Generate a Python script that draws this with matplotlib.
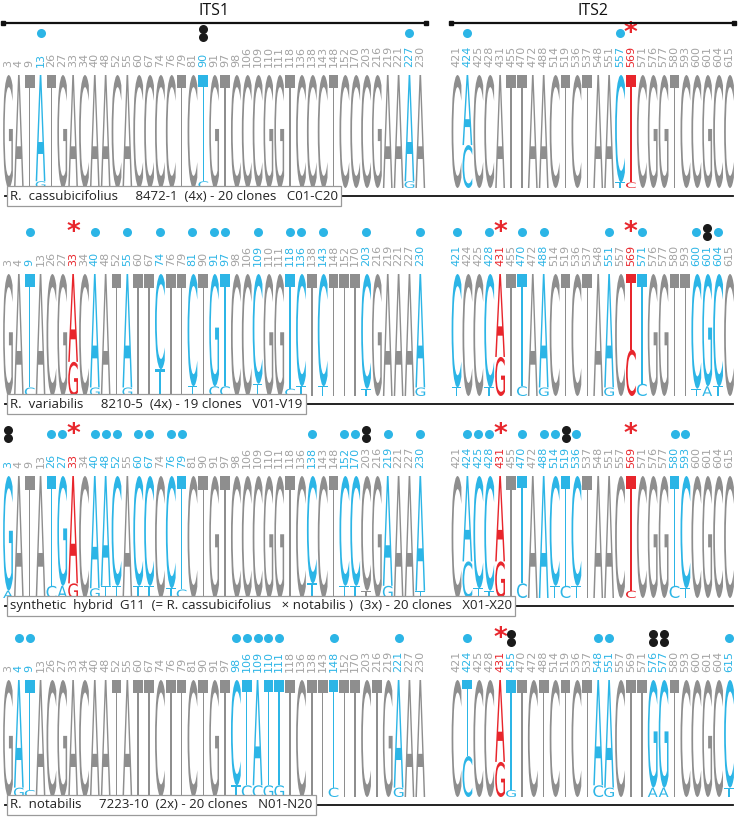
import matplotlib
matplotlib.use("Agg")
import matplotlib.pyplot as plt
from matplotlib.textpath import TextPath
from matplotlib.patches import PathPatch
from matplotlib.font_manager import FontProperties
from matplotlib.transforms import Affine2D

W, H = 738, 819
GRAY = "#8e8e8e"
LGRAY = "#a3a3a3"
CYAN = "#2cb5e6"
RED = "#e8262c"

# ---------------- data ----------------
its1_pos = [3, 4, 9, 13, 26, 27, 33, 34, 40, 48, 52, 55, 60, 67, 74, 76, 79, 81, 90,
            91, 97, 98, 106, 109, 110, 111, 118, 136, 138, 143, 148, 152, 170, 203,
            216, 219, 221, 227, 230]
its2_pos = [421, 424, 425, 428, 431, 455, 470, 472, 488, 514, 519, 536, 537, 548, 551,
            557, 569, 571, 576, 577, 580, 593, 600, 601, 604, 615]

panel_labels = [
    "R.  cassubicifolius     8472-1  (4x) - 20 clones   C01-C20",
    "R.  variabilis     8210-5  (4x) - 19 clones   V01-V19",
    "synthetic  hybrid  G11  (= R. cassubicifolius   \u00d7 notabilis )  (3x) - 20 clones   X01-X20",
    "R.  notabilis     7223-10  (2x) - 20 clones   N01-N20",
]

# major (top) letter of every column
its1_seq = [
    "GATATGACAACACCCCTCTGTCCCGGTCCCTCCCGAAAA",
    "GATACGACAATATTCTTCTGTCCCGGTCTCTTTCGAAAA",
    "GATATGACAACACCCCTCTGTCCCGGTCCCTCCCGAAAA",
    "GATACGACAATATTCTTCTGTCTATTTCTTTTTCTGAAA",
]
its2_seq = [
    "CACCATTAACTCTAACTCGGTCCGCC",
    "CCCCATTAACTCTAACTTGGTTCGCC",
    "CACCATTAACTCTAACTCGGTCCGCC",
    "CTCCATTCTCTCTAACTTGGTCCGCC",
]

its1_cyan = [[13, 90, 227],
             [9, 40, 55, 74, 81, 91, 97, 109, 118, 136, 143, 203, 230],
             [3, 26, 27, 40, 48, 52, 60, 67, 76, 79, 138, 152, 170, 219, 230],
             [4, 9, 98, 106, 109, 110, 111, 148, 221]]
its1_red = [[], [33], [33], []]
its2_cyan = [[424, 557],
             [421, 428, 470, 488, 551, 571, 600, 601, 604],
             [424, 425, 428, 470, 488, 514, 519, 536, 580, 593],
             [424, 455, 548, 551, 576, 577, 615]]
its2_red = [[569], [431, 569], [431, 569], [431]]

# minor variants drawn below the major letter: (position, letter, fraction of column)
its1_minor = [
    [(13, "G", 0.06), (90, "C", 0.06), (227, "G", 0.06)],
    [(9, "C", 0.07), (33, "G", 0.28), (40, "G", 0.07), (55, "G", 0.07), (74, "T", 0.22),
     (81, "T", 0.08), (91, "C", 0.08), (97, "C", 0.08), (109, "T", 0.1), (118, "C", 0.06),
     (136, "T", 0.08), (143, "T", 0.08), (203, "T", 0.06), (230, "G", 0.07)],
    [(3, "A", 0.06), (26, "C", 0.1), (27, "A", 0.1), (33, "G", 0.12), (40, "G", 0.08),
     (48, "T", 0.1), (52, "T", 0.1), (60, "T", 0.1), (67, "T", 0.1), (76, "T", 0.08),
     (79, "C", 0.07), (138, "T", 0.12), (152, "T", 0.1), (170, "T", 0.1), (203, "T", 0.06),
     (219, "G", 0.1), (230, "T", 0.06)],
    [(4, "G", 0.08), (9, "C", 0.06), (98, "T", 0.1), (106, "C", 0.1), (109, "C", 0.1),
     (110, "G", 0.1), (111, "G", 0.1), (148, "C", 0.08), (221, "G", 0.08)],
]
its2_minor = [
    [(424, "C", 0.38), (557, "T", 0.05), (569, "C", 0.05)],
    [(421, "T", 0.07), (428, "T", 0.07), (431, "G", 0.32), (470, "C", 0.08), (488, "G", 0.07),
     (551, "G", 0.07), (569, "C", 0.38), (571, "C", 0.1), (600, "T", 0.06), (601, "A", 0.08),
     (604, "T", 0.08)],
    [(424, "C", 0.3), (425, "T", 0.08), (428, "T", 0.06), (431, "G", 0.3), (470, "C", 0.12),
     (514, "T", 0.1), (519, "C", 0.1), (536, "T", 0.1), (569, "C", 0.06), (580, "C", 0.1),
     (593, "T", 0.08)],
    [(424, "C", 0.35), (431, "G", 0.3), (455, "G", 0.06), (548, "C", 0.1), (551, "G", 0.08),
     (576, "A", 0.08), (577, "A", 0.08), (615, "T", 0.08)],
]

# markers above the columns: 'dot' (cyan), 'pair' (two black dots), 'star' (red asterisk)
its1_marks = [
    [(13, "dot"), (90, "pair"), (227, "dot")],
    [(9, "dot"), (33, "star"), (40, "dot"), (55, "dot"), (74, "dot"), (81, "dot"), (91, "dot"),
     (97, "dot"), (109, "dot"), (118, "dot"), (136, "dot"), (143, "dot"), (203, "dot"), (230, "dot")],
    [(3, "pair"), (26, "dot"), (27, "dot"), (33, "star"), (40, "dot"), (48, "dot"), (52, "dot"),
     (60, "dot"), (67, "dot"), (76, "dot"), (79, "dot"), (138, "dot"), (152, "dot"), (170, "dot"),
     (203, "pair"), (219, "dot"), (230, "dot")],
    [(4, "dot"), (9, "dot"), (98, "dot"), (106, "dot"), (109, "dot"), (110, "dot"), (111, "dot"),
     (148, "dot"), (221, "dot")],
]
its2_marks = [
    [(424, "dot"), (557, "dot"), (569, "star")],
    [(421, "dot"), (428, "dot"), (431, "star"), (470, "dot"), (488, "dot"), (551, "dot"),
     (569, "star"), (571, "dot"), (600, "dot"), (601, "pair"), (604, "dot")],
    [(424, "dot"), (425, "dot"), (428, "dot"), (431, "star"), (470, "dot"), (488, "dot"),
     (514, "dot"), (519, "pair"), (536, "dot"), (569, "star"), (580, "dot"), (593, "dot")],
    [(424, "dot"), (431, "star"), (455, "pair"), (548, "dot"), (551, "dot"), (576, "pair"),
     (577, "pair"), (615, "dot")],
]

# ---------------- layout (pixels) ----------------
logo_top = [75, 274, 476, 680]
logo_bot = [188, 396, 598, 797]
regions = [  # first column centre, column step
    (8.0, 10.85),
    (456.5, 10.9),
]

LOGO_FP = FontProperties(family="DejaVu Sans")
TXT = ["Open Sans", "DejaVu Sans"]
LAB = ["DejaVu Sans"]

fig = plt.figure(figsize=(W / 100, H / 100), dpi=100)
over = fig.add_axes([0, 0, 1, 1])
over.set_xlim(0, W)
over.set_ylim(H, 0)
over.axis("off")
over.set_zorder(5)


def draw_letter(ax, ch, xc, y0, h, w, color):
    tp = TextPath((0, 0), ch, size=1, prop=LOGO_FP)
    bb = tp.get_extents()
    tr = (Affine2D().translate(-bb.x0, -bb.y0)
          .scale(w / bb.width, h / bb.height)
          .translate(xc - w / 2, y0))
    ax.add_patch(PathPatch(tr.transform_path(tp), fc=color, ec="none", lw=0))


def colour_of(pos, cyan, red):
    if pos in red:
        return RED
    if pos in cyan:
        return CYAN
    return None


for p in range(4):
    lt, lb = logo_top[p], logo_bot[p]
    lh = lb - lt
    top_px = lt - 52
    for r, (positions, seqs, cyans, reds, minors, marks) in enumerate([
        (its1_pos, its1_seq, its1_cyan, its1_red, its1_minor, its1_marks),
        (its2_pos, its2_seq, its2_cyan, its2_red, its2_minor, its2_marks),
    ]):
        x0, step = regions[r]
        n = len(positions)
        left = x0 - step / 2
        ax = fig.add_axes([left / W, (H - lb) / H, n * step / W, (lb - top_px) / H])
        ax.set_xlim(-0.5, n - 0.5)
        ax.set_ylim(0, (lb - top_px) / lh)
        ax.axis("off")
        u = 1.0 / lh
        seq = seqs[p]
        minor = {}
        for pos, let, fr in minors[p]:
            minor.setdefault(pos, []).append((let, fr))
        for i, pos in enumerate(positions):
            col = colour_of(pos, cyans[p], reds[p])
            lcol = col or GRAY
            tcol = col or LGRAY
            y = 0.0
            for let, fr in minor.get(pos, []):
                draw_letter(ax, let, i, y, fr, 0.9, lcol)
                y += fr
            draw_letter(ax, seq[i], i, y, 1.0 - y, 0.9, lcol)
            ax.text(i, 1 + 8 * u, str(pos), rotation=90, ha="center", va="bottom",
                    fontsize=8, color=tcol, family=LAB)
        for pos, kind in marks[p]:
            i = positions.index(pos)
            yd = 1 + 42 * u
            if kind == "dot":
                ax.plot(i, yd, "o", ms=6.5, color=CYAN, mec="none", clip_on=False)
            elif kind == "pair":
                ax.plot([i, i], [yd + 4 * u, yd - 4 * u], "o", ms=6.5, color="#1a1a1a",
                        mec="none", clip_on=False)
            else:
                ax.text(i, yd - 1 * u, "*", ha="center", va="center", fontsize=19,
                        color=RED, family=LAB, fontweight="bold")

    # label box and separator line
    by = lb + 8
    over.plot([5, 733], [by, by], color="#111111", lw=1.3, zorder=1)
    over.text(10, by, panel_labels[p], ha="left", va="center", fontsize=9.5, color="#222222",
              family=TXT, zorder=3,
              bbox=dict(boxstyle="square,pad=0.25", fc="white", ec="#9a9a9a", lw=0.9))

# headers
for r, name in enumerate(["ITS1", "ITS2"]):
    x0, step = regions[r]
    n = len(its1_pos) if r == 0 else len(its2_pos)
    xa, xb = x0 - step / 2, x0 + (n - 0.5) * step
    over.plot([xa, xb], [23, 23], color="#111111", lw=1.6)
    over.plot([xa, xb], [23, 23], "s", ms=3.5, color="#111111")
    over.text((xa + xb) / 2, 11, name, ha="center", va="center", fontsize=11.5,
              color="#111111", family=TXT)

fig.savefig("out.png", dpi=100)
